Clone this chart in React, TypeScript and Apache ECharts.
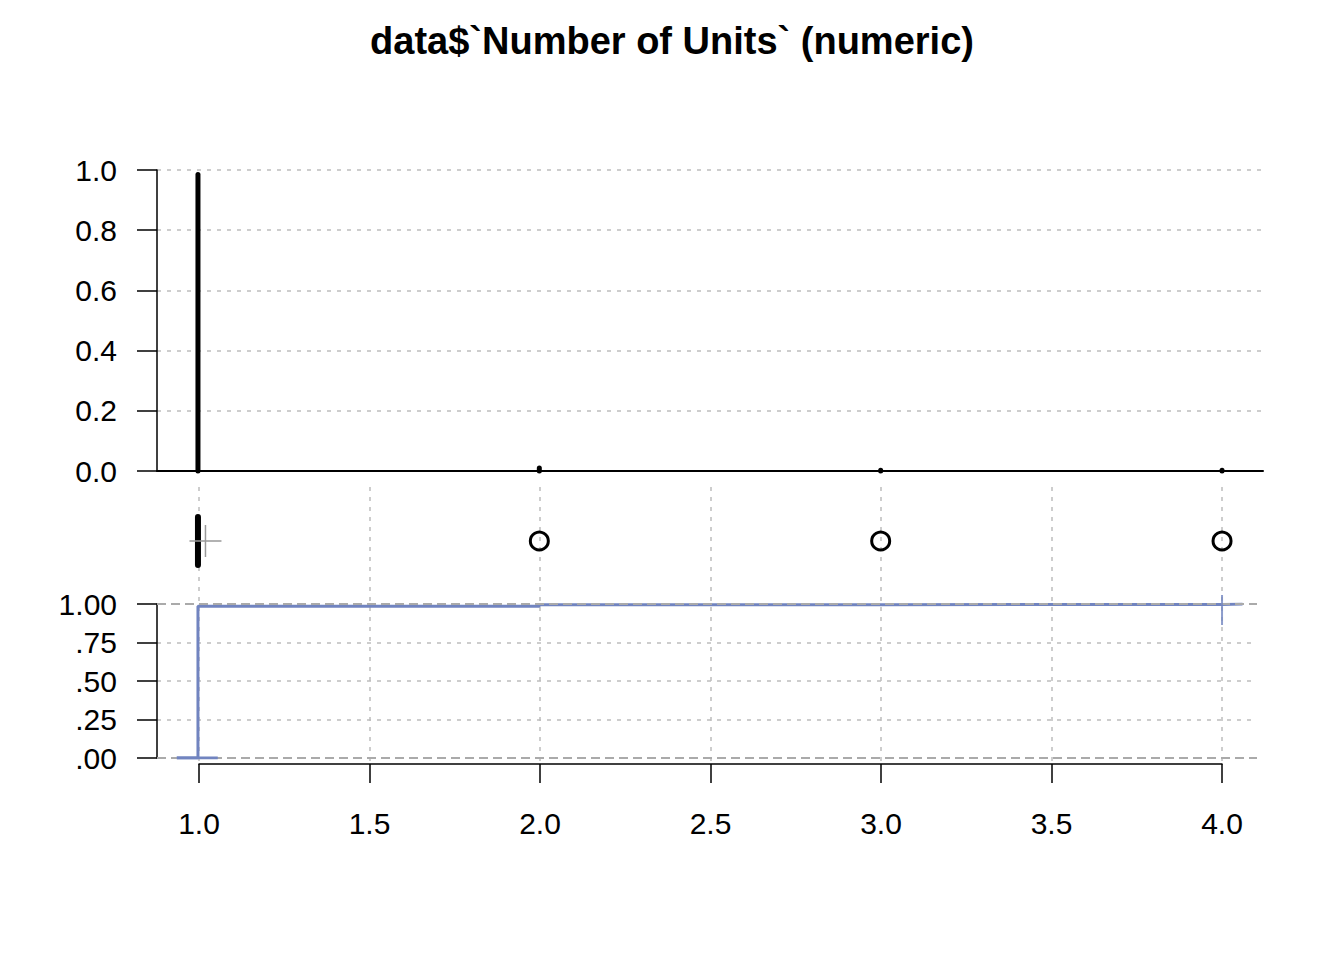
import React, { useEffect, useRef } from "react";
import * as echarts from "echarts";

const titleText = "data$`Number of Units` (numeric)";
const values = [1, 2, 3, 4];
const relFreq = [0.985, 0.01, 0.0025, 0.0025];
const topYTicks = ["0.0", "0.2", "0.4", "0.6", "0.8", "1.0"];
const ecdfYTicks = [".00", ".25", ".50", ".75", "1.00"];
const boxStats = [1, 1, 1, 1, 1]; // min, q1, median, q3, max
const outliers = [2, 3, 4];
const meanValue = 1.022;
const xMin = 0.88;
const xMax = 4.12;
const xTickMin = 1;
const xTickMax = 4;
const ecdfLeft = 0.938;
const ecdfLeftTailEnd = 1.058;
const ecdfRight = 4.06;

const FONT = "'Liberation Sans', Arial, sans-serif";
const BLUE = "#7184C0";
const GRID_GRAY = "#BDBDBD";

export default function App() {
  const ref = useRef<HTMLDivElement>(null);
  useEffect(() => {
    document.body.style.margin = "0";
    if (!ref.current) return;
    const chart = echarts.init(ref.current, null, { renderer: "svg" });

    let cum = 0;
    const ecdfVals = relFreq.map((f) => (cum += f));
    const ecdfPts: number[][] = [[ecdfLeft, 0]];
    values.forEach((v, i) => ecdfPts.push([v, ecdfVals[i]]));
    ecdfPts.push([ecdfRight, ecdfVals[ecdfVals.length - 1]]);

    const hiddenAxis = (gi: number, min: number, max: number) => ({
      type: "value",
      gridIndex: gi,
      min,
      max,
      show: false,
    });

    const option: any = {
      animation: false,
      backgroundColor: "#fff",
      textStyle: { fontFamily: FONT },
      title: {
        text: titleText,
        left: "center",
        top: 17,
        textStyle: { fontFamily: FONT, fontWeight: "bold", fontSize: 38, color: "#000" },
      },
      grid: [
        { left: 157, top: 170, width: 1106, height: 301 },
        { left: 157, top: 485, width: 1106, height: 112 },
        { left: 157, top: 604, width: 1100, height: 154 },
        { left: 199, top: 487, width: 1023, height: 277 },
      ],
      xAxis: [
        {
          type: "value",
          gridIndex: 0,
          min: xMin,
          max: xMax,
          axisLine: { show: true, lineStyle: { color: "#000", width: 2 } },
          axisTick: { show: false },
          axisLabel: { show: false },
          splitLine: { show: false },
        },
        hiddenAxis(1, xMin, xMax),
        hiddenAxis(2, xMin, xMin + (xMax - xMin) * (1100 / 1106)),
        {
          type: "value",
          gridIndex: 3,
          min: xTickMin,
          max: xTickMax,
          interval: 0.5,
          axisLine: { show: true, lineStyle: { color: "#000", width: 1.5 } },
          axisTick: { show: true, length: 19, lineStyle: { color: "#000", width: 1.5 } },
          axisLabel: {
            show: true,
            margin: 44,
            fontSize: 30,
            color: "#000",
            fontFamily: FONT,
            formatter: (v: number) => v.toFixed(1),
          },
          splitLine: {
            show: true,
            lineStyle: { color: GRID_GRAY, type: [4, 6], width: 1.5 },
          },
        },
      ],
      yAxis: [
        {
          type: "value",
          gridIndex: 0,
          min: 0,
          max: 1,
          interval: 0.2,
          axisLine: { show: true, lineStyle: { color: "#000", width: 1.5 } },
          axisTick: { show: true, length: 20, lineStyle: { color: "#000", width: 1.5 } },
          axisLabel: {
            margin: 40,
            fontSize: 30,
            color: "#000",
            fontFamily: FONT,
            formatter: (v: number) => topYTicks[Math.round(v / 0.2)],
          },
          splitLine: {
            show: true,
            showMinLine: false,
            lineStyle: { color: GRID_GRAY, type: [4, 6], width: 1.5 },
          },
        },
        hiddenAxis(1, -1, 1),
        {
          type: "value",
          gridIndex: 2,
          min: 0,
          max: 1,
          interval: 0.25,
          axisLine: { show: true, lineStyle: { color: "#000", width: 1.5 } },
          axisTick: { show: true, length: 20, lineStyle: { color: "#000", width: 1.5 } },
          axisLabel: {
            margin: 40,
            fontSize: 30,
            color: "#000",
            fontFamily: FONT,
            formatter: (v: number) => ecdfYTicks[Math.round(v / 0.25)],
          },
          splitLine: {
            show: true,
            showMinLine: false,
            showMaxLine: false,
            lineStyle: { color: GRID_GRAY, type: [4, 6], width: 1.5 },
          },
        },
        hiddenAxis(3, 0, 1),
      ],
      series: [
        {
          type: "custom",
          xAxisIndex: 0,
          yAxisIndex: 0,
          data: values.map((v, i) => [v, relFreq[i]]),
          renderItem: (params: any, api: any) => {
            const x = api.value(0);
            const y = api.value(1);
            const p0 = api.coord([x, 0]);
            const p1 = api.coord([x, y]);
            return {
              type: "line",
              shape: { x1: p0[0], y1: p0[1], x2: p1[0], y2: p1[1] },
              style: { stroke: "#000", lineWidth: 5, lineCap: "round" },
              z2: 10,
            };
          },
          z: 5,
        },
        {
          type: "custom",
          xAxisIndex: 1,
          yAxisIndex: 1,
          data: [boxStats],
          renderItem: (params: any, api: any) => {
            const q1 = api.value(1);
            const med = api.value(2);
            const q3 = api.value(3);
            const a = api.coord([q1, 0.43]);
            const b = api.coord([q3, -0.43]);
            const m0 = api.coord([med, 0.43]);
            const m1 = api.coord([med, -0.43]);
            return {
              type: "group",
              children: [
                {
                  type: "rect",
                  shape: { x: a[0], y: a[1], width: b[0] - a[0], height: b[1] - a[1] },
                  style: { fill: "none", stroke: "#000", lineWidth: 2 },
                },
                {
                  type: "line",
                  shape: { x1: m0[0], y1: m0[1], x2: m1[0], y2: m1[1] },
                  style: { stroke: "#000", lineWidth: 6, lineCap: "round" },
                },
              ],
            };
          },
          z: 5,
        },
        {
          type: "custom",
          xAxisIndex: 1,
          yAxisIndex: 1,
          data: [[meanValue, 0]],
          renderItem: (params: any, api: any) => {
            const c = api.coord([api.value(0), api.value(1)]);
            return {
              type: "group",
              children: [
                {
                  type: "line",
                  shape: { x1: c[0] - 16, y1: c[1], x2: c[0] + 16, y2: c[1] },
                  style: { stroke: "#999", lineWidth: 1.5 },
                },
                {
                  type: "line",
                  shape: { x1: c[0], y1: c[1] - 16, x2: c[0], y2: c[1] + 16 },
                  style: { stroke: "#999", lineWidth: 1.5 },
                },
              ],
            };
          },
          z: 6,
        },
        {
          type: "scatter",
          xAxisIndex: 1,
          yAxisIndex: 1,
          data: outliers.map((v) => [v, 0]),
          symbol: "circle",
          symbolSize: 18,
          itemStyle: { color: "rgba(0,0,0,0)", borderColor: "#000", borderWidth: 3, opacity: 1 },
          z: 5,
        },
        {
          type: "line",
          xAxisIndex: 2,
          yAxisIndex: 2,
          data: ecdfPts,
          step: "end",
          showSymbol: false,
          symbol: "none",
          lineStyle: { color: BLUE, width: 3 },
          z: 4,
          markLine: {
            silent: true,
            symbol: "none",
            label: { show: false },
            lineStyle: { color: "#AAAAAA", type: [9, 5], width: 2 },
            data: [{ yAxis: 0 }, { yAxis: 1 }],
            z: 6,
          },
        },
        {
          type: "line",
          xAxisIndex: 2,
          yAxisIndex: 2,
          data: [
            [ecdfLeft, 0],
            [ecdfLeftTailEnd, 0],
          ],
          showSymbol: false,
          symbol: "none",
          lineStyle: { color: BLUE, width: 3 },
          z: 7,
        },
        {
          type: "scatter",
          xAxisIndex: 2,
          yAxisIndex: 2,
          data: [[values[values.length - 1], ecdfVals[ecdfVals.length - 1]]],
          symbol: "rect",
          symbolSize: [2, 30],
          symbolOffset: [0, 6],
          itemStyle: { color: BLUE },
          z: 7,
        },
      ],
    };
    chart.setOption(option);
    return () => chart.dispose();
  }, []);
  return <div ref={ref} style={{ width: 1344, height: 960 }} />;
}
